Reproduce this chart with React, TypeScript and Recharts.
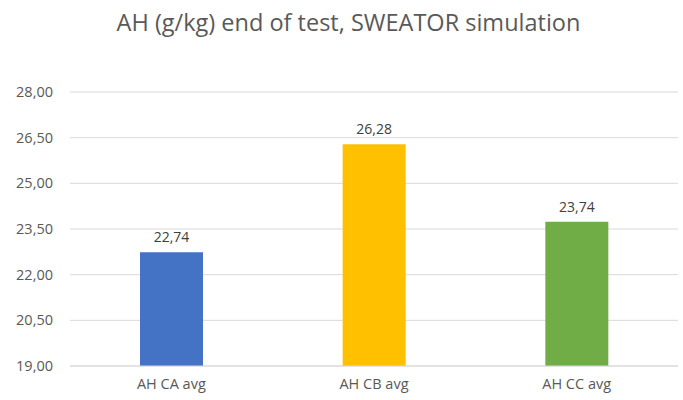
import { BarChart, Bar, XAxis, YAxis, CartesianGrid, LabelList, Cell } from 'recharts'

const categories = ['AH CA avg', 'AH CB avg', 'AH CC avg']
const values = [22.74, 26.28, 23.74]
const barColors = ['#4472C4', '#FFC000', '#70AD47']
const yTicks = [19, 20.5, 22, 23.5, 25, 26.5, 28]

const fmt = (v: number) => v.toFixed(2).replace('.', ',')

const data = categories.map((name, i) => ({ name, value: values[i] }))

const font = '"Open Sans", "Liberation Sans", sans-serif'

export default function App() {
  return (
    <div style={{ position: 'absolute', left: 0, top: 0, width: 683, height: 400, background: '#fff', fontFamily: font }}>
      {/* title sits a bit right of centre in the original */}
      <div
        style={{
          position: 'absolute',
          top: 6,
          left: 7,
          width: 683,
          textAlign: 'center',
          fontSize: 23.5,
          color: '#595959',
        }}
      >
        AH (g/kg) end of test, SWEATOR simulation
      </div>
      <BarChart
        width={683}
        height={400}
        data={data}
        margin={{ top: 92, right: 5, left: 0, bottom: 6 }}
      >
        <CartesianGrid vertical={false} stroke="#D9D9D9" />
        <XAxis
          dataKey="name"
          axisLine={{ stroke: '#D9D9D9' }}
          tickLine={false}
          tick={{ fill: '#595959', fontSize: 14.5, fontFamily: font }}
          tickMargin={7}
          height={28}
        />
        <YAxis
          domain={[19, 28]}
          ticks={yTicks}
          tickFormatter={fmt}
          axisLine={false}
          tickLine={false}
          tick={{ fill: '#595959', fontSize: 14.5, fontFamily: font }}
          tickMargin={11}
          width={70}
        />
        <Bar dataKey="value" barSize={63} isAnimationActive={false}>
          {data.map((d, i) => (
            <Cell key={d.name} fill={barColors[i]} />
          ))}
          <LabelList
            dataKey="value"
            position="top"
            offset={10}
            formatter={(v: any) => fmt(Number(v))}
            style={{ fill: '#404040', fontSize: 14, fontFamily: font }}
          />
        </Bar>
      </BarChart>
    </div>
  )
}
